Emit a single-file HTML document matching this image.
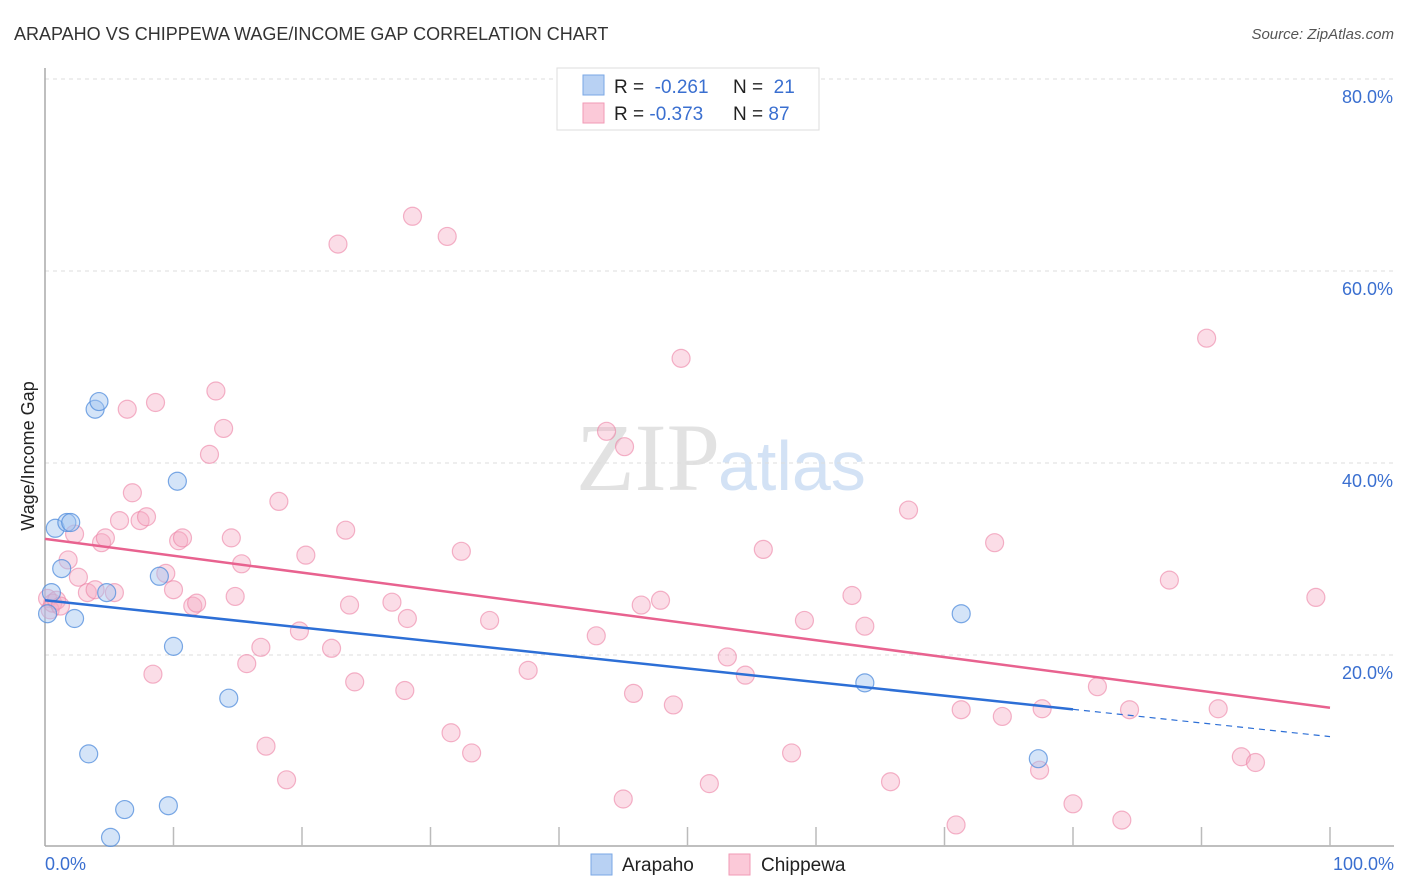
<!DOCTYPE html>
<html><head><meta charset="utf-8"><style>
body{margin:0;background:#fff;font-family:"Liberation Sans",sans-serif}
svg{display:block}
</style></head><body>
<svg id="chart" width="1406" height="892" xmlns="http://www.w3.org/2000/svg">
<text x="14" y="40" font-size="18" fill="#333">ARAPAHO VS CHIPPEWA WAGE/INCOME GAP CORRELATION CHART</text>
<text x="1394" y="39" font-size="15" fill="#555" font-style="italic" text-anchor="end">Source: ZipAtlas.com</text>
<text x="720" y="490" font-size="96" fill="#e2e2e2" font-family="Liberation Serif,serif" text-anchor="end">ZIP</text>
<text x="718" y="490" font-size="70" fill="#d3e2f5">atlas</text>
<g id="grid"></g>
<g id="axes"></g>
<g id="pts"></g>
<g id="trend"></g>
<text transform="translate(34,456) rotate(-90)" font-size="18" fill="#222" text-anchor="middle">Wage/Income Gap</text>
<text x="45" y="870" font-size="18" fill="#3a6fd0">0.0%</text>
<text x="1394" y="870" font-size="18" fill="#3a6fd0" text-anchor="end">100.0%</text>
<g>
<rect x="557" y="68" width="262" height="62" fill="#fff" stroke="#ddd"/>
<rect x="583" y="75" width="21" height="20" fill="#b8d1f3" stroke="#7aa7e6"/>
<rect x="583" y="103" width="21" height="20" fill="#fbc9d8" stroke="#f19ab6"/>
<text x="614" y="93" font-size="19" fill="#222">R = <tspan fill="#3a6fd0">&#160;-0.261</tspan><tspan x="733">N = </tspan><tspan fill="#3a6fd0">&#160;21</tspan></text>
<text x="614" y="120" font-size="19" fill="#222">R = <tspan fill="#3a6fd0">-0.373</tspan><tspan x="733">N = </tspan><tspan fill="#3a6fd0">87</tspan></text>
</g>
<g>
<rect x="591" y="854" width="21" height="21" fill="#b8d1f3" stroke="#7aa7e6"/>
<text x="622" y="871" font-size="19" fill="#222">Arapaho</text>
<rect x="729" y="854" width="21" height="21" fill="#fbc9d8" stroke="#f19ab6"/>
<text x="761" y="871" font-size="19" fill="#222">Chippewa</text>
</g>
</svg>
<script>
const yTicks=[20,40,60,80];
const yTickLabels=["20.0%","40.0%","60.0%","80.0%"];
const xTicks=[10,20,30,40,50,60,70,80,90,100];
const blueX=[0.2,0.5,0.8,1.3,1.7,2.0,2.3,3.4,3.9,4.2,4.8,5.1,6.2,8.9,9.6,10.0,10.3,14.3,63.8,71.3,77.3];
const blueY=[24.3,26.5,33.2,29.0,33.8,33.8,23.8,9.7,45.6,46.4,26.5,1.0,3.9,28.2,4.3,20.9,38.1,15.5,17.1,24.3,9.2];
const pinkX=[0.2,0.4,0.6,0.9,1.2,1.8,2.3,2.6,3.3,3.9,4.4,4.7,5.4,5.8,6.4,6.8,7.4,7.9,8.4,8.6,9.4,10.0,10.4,10.7,11.5,11.8,12.8,13.3,13.9,14.5,14.8,15.3,15.7,16.8,17.2,18.2,18.8,19.8,20.3,22.3,22.8,23.4,23.7,24.1,27.0,28.0,28.2,28.6,31.3,31.6,32.4,33.2,34.6,37.6,42.9,43.7,45.0,45.1,45.8,46.4,47.9,48.9,49.5,51.7,53.1,54.5,55.9,58.1,59.1,62.8,63.8,65.8,67.2,70.9,71.3,73.9,74.5,77.4,77.6,80.0,81.9,83.8,84.4,87.5,90.4,91.3,93.1,94.2,98.9];
const pinkY=[25.9,24.7,25.4,25.7,25.1,29.9,32.6,28.1,26.5,26.8,31.7,32.2,26.5,34.0,45.6,36.9,34.0,34.4,18.0,46.3,28.5,26.8,31.9,32.2,25.1,25.4,40.9,47.5,43.6,32.2,26.1,29.5,19.1,20.8,10.5,36.0,7.0,22.5,30.4,20.7,62.8,33.0,25.2,17.2,25.5,16.3,23.8,65.7,63.6,11.9,30.8,9.8,23.6,18.4,22.0,43.3,5.0,41.7,16.0,25.2,25.7,14.8,50.9,6.6,19.8,17.9,31.0,9.8,23.6,26.2,23.0,6.8,35.1,2.3,14.3,31.7,13.6,8.0,14.4,4.5,16.7,2.8,14.3,27.8,53.0,14.4,9.4,8.8,26.0];
const trendBlue=[25.7,11.5];
const trendPink=[32.1,14.5];
const blueSolidEnd=80;
const X0=45,X1=1330,YB=847,YS=9.6;
const xs=v=>X0+(X1-X0)*v/100, ys=v=>YB-v*YS;
const NS="http://www.w3.org/2000/svg";
function mk(t,a,p){const e=document.createElementNS(NS,t);for(const k in a)e.setAttribute(k,a[k]);p.appendChild(e);return e;}
const grid=document.getElementById('grid'),axes=document.getElementById('axes'),pts=document.getElementById('pts'),tr=document.getElementById('trend');
yTicks.forEach((v,i)=>{
 const l=mk('line',{x1:45,x2:1394,y1:ys(v),y2:ys(v),stroke:'#ddd','stroke-dasharray':'4,4'},grid);
 
 
 const t=mk('text',{x:1393,y:ys(v)+24,'font-size':18,fill:'#3a6fd0','text-anchor':'end'},grid);
 t.textContent=yTickLabels[i];
 
 
});
let a=mk('line',{x1:45,x2:45,y1:68,y2:846,stroke:'#aaa','stroke-width':1.5},axes);


a=mk('line',{x1:45,x2:1394,y1:846,y2:846,stroke:'#aaa','stroke-width':1.5},axes);


xTicks.forEach(v=>{
 const t=mk('line',{x1:xs(v),x2:xs(v),y1:827,y2:846,stroke:'#bbb','stroke-width':1.5},axes);
 
 
});
pinkX.forEach((x,i)=>{
 const c=mk('circle',{cx:xs(x),cy:ys(pinkY[i]),r:9,fill:'rgba(246,170,195,0.4)',stroke:'rgba(236,130,165,0.6)','stroke-width':1.2},pts);
 
 
});
blueX.forEach((x,i)=>{
 const c=mk('circle',{cx:xs(x),cy:ys(blueY[i]),r:9,fill:'rgba(160,195,240,0.45)',stroke:'rgba(80,140,220,0.75)','stroke-width':1.2},pts);
 
 
});
const by=v=>trendBlue[0]+(trendBlue[1]-trendBlue[0])*v/100;
let l=mk('line',{x1:xs(0),y1:ys(trendPink[0]),x2:xs(100),y2:ys(trendPink[1]),stroke:'#e8628f','stroke-width':2.5},tr);


l=mk('line',{x1:xs(0),y1:ys(by(0)),x2:xs(blueSolidEnd),y2:ys(by(blueSolidEnd)),stroke:'#2d6fd6','stroke-width':2.5},tr);


l=mk('line',{x1:xs(blueSolidEnd),y1:ys(by(blueSolidEnd)),x2:xs(100),y2:ys(by(100)),stroke:'#2d6fd6','stroke-width':1.2,'stroke-dasharray':'6,5'},tr);


</script>
</body></html>
